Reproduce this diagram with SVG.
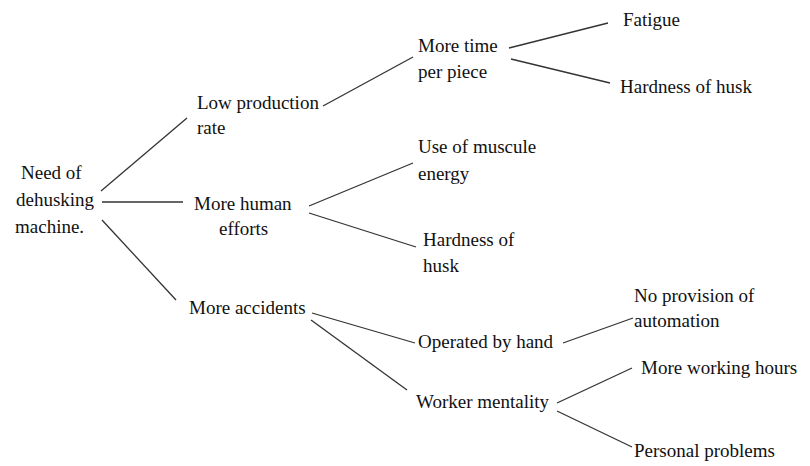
<svg xmlns="http://www.w3.org/2000/svg" width="810" height="466" viewBox="0 0 810 466">
<style>
.n text{font-family:"Liberation Serif","Times New Roman",serif;font-size:19px;fill:#111}
#connectors line{stroke:#333;stroke-width:1.3}
</style>
<rect width="810" height="466" fill="#fff"/>
<g id="connectors">
<line x1="101" y1="191" x2="187" y2="118"/>
<line x1="102" y1="202" x2="183" y2="202"/>
<line x1="102" y1="220" x2="176" y2="300"/>
<line x1="323" y1="106" x2="413" y2="57"/>
<line x1="509" y1="48" x2="608" y2="23"/>
<line x1="511" y1="59" x2="610" y2="83"/>
<line x1="309" y1="206" x2="413" y2="163"/>
<line x1="309" y1="213" x2="416" y2="247"/>
<line x1="312" y1="313" x2="415" y2="343"/>
<line x1="311" y1="320" x2="407" y2="390"/>
<line x1="563" y1="343" x2="633" y2="318"/>
<line x1="557" y1="403" x2="632" y2="368"/>
<line x1="557" y1="411" x2="632" y2="447"/>
</g>
<g id="root" class="n"><text x="21" y="179">Need of</text><text x="16" y="206">dehusking</text><text x="15" y="233">machine.</text></g>
<g id="low-production" class="n"><text x="197" y="109">Low production</text><text x="197" y="134">rate</text></g>
<g id="more-human" class="n"><text x="194" y="210">More human</text><text x="219" y="235">efforts</text></g>
<g id="more-accidents" class="n"><text x="189" y="314">More accidents</text></g>
<g id="more-time" class="n"><text x="418" y="52">More time</text><text x="418" y="78">per piece</text></g>
<g id="fatigue" class="n"><text x="623" y="26">Fatigue</text></g>
<g id="hardness-1" class="n"><text x="620" y="93">Hardness of husk</text></g>
<g id="muscle" class="n"><text x="418" y="153">Use of muscule</text><text x="418" y="180">energy</text></g>
<g id="hardness-2" class="n"><text x="423" y="246">Hardness of</text><text x="423" y="272">husk</text></g>
<g id="operated" class="n"><text x="418" y="348">Operated by hand</text></g>
<g id="automation" class="n"><text x="634" y="302">No provision of</text><text x="634" y="327">automation</text></g>
<g id="worker" class="n"><text x="416" y="408">Worker mentality</text></g>
<g id="working-hours" class="n"><text x="641" y="374">More working hours</text></g>
<g id="personal" class="n"><text x="634" y="457">Personal problems</text></g>
</svg>
